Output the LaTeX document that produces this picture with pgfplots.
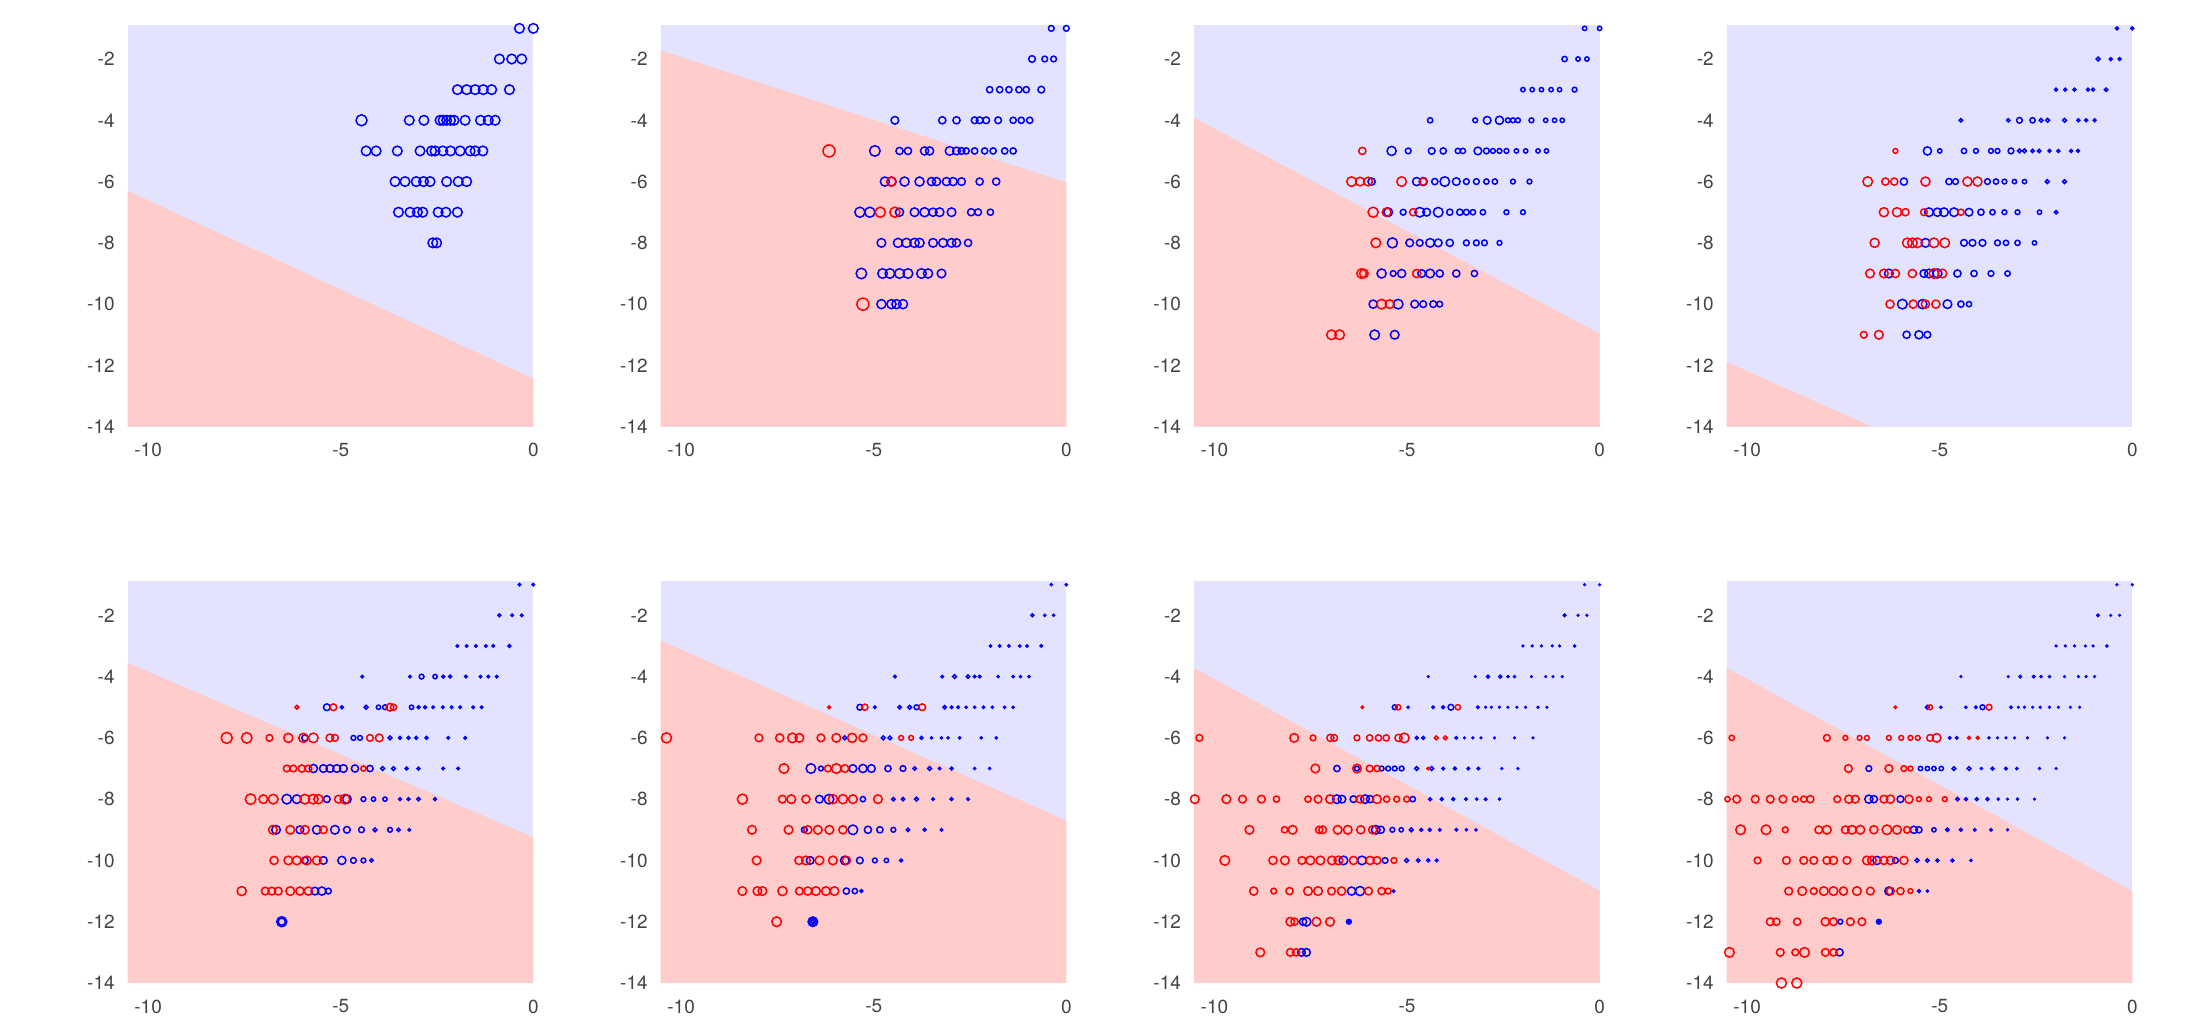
\documentclass[border=0pt]{standalone}
\usepackage{fontspec}
\setmainfont{TeX Gyre Heros}
\usepackage{pgfplots}
\usepackage{pgfplotstable}
\pgfplotsset{compat=1.18}
\definecolor{lav}{HTML}{E3E3FF}
\definecolor{pinkc}{HTML}{FFCCCC}
\definecolor{tickgray}{HTML}{444444}
\pgfplotsset{
  myax/.style={scale only axis, width=202.8pt, height=201pt, anchor=south west,
    xmin=-10.53, xmax=0, ymin=-14, ymax=-0.88,
    axis line style={draw=none}, tick style={draw=none},
    xtick={-10,-5,0}, xticklabels={-10,-5,0},
    ytick={-14,-12,-10,-8,-6,-4,-2}, yticklabels={-14,-12,-10,-8,-6,-4,-2},
    ticklabel style={font=\fontsize{9.5}{11}\selectfont, text=tickgray},
    xticklabel style={yshift=-4.8pt}, yticklabel style={xshift=-3pt},
    clip=false, axis background/.style={fill=lav}},
}
\newcommand{\pts}[2]{\addplot[scatter, only marks, mark=o, line width=0.75pt,
   point meta=explicit,
   scatter/use mapped color={draw=#1},
   visualization depends on={1.2*\thisrow{s}\as\ms},
   scatter/@pre marker code/.append style={/tikz/mark size=\ms, /tikz/line width=0.75pt}] table[x=x,y=y,meta=s] {#2};}

% ---------- panel 1 ----------
\pgfplotstableread[row sep=\\]{x y s\\
-0.36 -1 2\\ 0 -1 2\\ -0.88 -2 2\\ -0.56 -2 2\\ -0.30 -2 2\\
-1.97 -3 2\\ -1.73 -3 2\\ -1.51 -3 2\\ -1.30 -3 2\\ -1.08 -3 2\\ -0.62 -3 2\\
-4.46 -4 2.3\\ -3.22 -4 2\\ -2.84 -4 2\\ -2.42 -4 2\\ -2.34 -4 2\\ -2.25 -4 2\\ -2.15 -4 2\\ -2.06 -4 2\\ -1.77 -4 2\\ -1.37 -4 2\\ -1.17 -4 2\\ -0.99 -4 2\\
-4.34 -5 2\\ -4.08 -5 2\\ -3.53 -5 2\\ -2.94 -5 2\\ -2.64 -5 2\\ -2.55 -5 2\\ -2.35 -5 2\\ -2.15 -5 2\\ -1.90 -5 2\\ -1.64 -5 2\\ -1.51 -5 2\\ -1.31 -5 2\\
-3.59 -6 2\\ -3.33 -6 2\\ -3.04 -6 2\\ -2.85 -6 2\\ -2.68 -6 2\\ -2.25 -6 2\\ -1.95 -6 2\\ -1.73 -6 2\\
-3.50 -7 2\\ -3.20 -7 2\\ -3.01 -7 2\\ -2.87 -7 2\\ -2.47 -7 2\\ -2.27 -7 2\\ -1.97 -7 2\\
-2.61 -8 2\\ -2.51 -8 2\\
}\bA

% ---------- panel 2 ----------
\pgfplotstableread[row sep=\\]{x y s\\
-0.39 -1 1.2\\ 0 -1 1.2\\ -0.89 -2 1.4\\ -0.56 -2 1.2\\ -0.33 -2 1.2\\
-1.99 -3 1.3\\ -1.73 -3 1.3\\ -1.49 -3 1.3\\ -1.23 -3 1.3\\ -1.04 -3 1.3\\ -0.65 -3 1.4\\
-4.45 -4 1.6\\ -3.22 -4 1.5\\ -2.85 -4 1.5\\ -2.38 -4 1.4\\ -2.25 -4 1.4\\ -2.08 -4 1.4\\ -1.77 -4 1.4\\ -1.38 -4 1.3\\ -1.17 -4 1.3\\ -0.95 -4 1.3\\
-4.97 -5 2.2\\ -4.33 -5 1.5\\ -4.11 -5 1.5\\ -3.68 -5 1.7\\ -3.55 -5 1.7\\ -3.03 -5 1.8\\ -2.85 -5 1.6\\ -2.72 -5 1.4\\ -2.60 -5 1.3\\ -2.38 -5 1.3\\ -2.12 -5 1.3\\ -1.90 -5 1.3\\ -1.60 -5 1.3\\ -1.38 -5 1.3\\
-4.71 -6 1.9\\ -4.54 -6 1.9\\ -4.20 -6 1.9\\ -3.81 -6 1.9\\ -3.50 -6 1.7\\ -3.37 -6 1.7\\ -3.11 -6 1.7\\ -2.94 -6 1.7\\ -2.72 -6 1.6\\ -2.25 -6 1.5\\ -1.82 -6 1.5\\
-5.36 -7 2.1\\ -5.10 -7 2.1\\ -4.33 -7 1.7\\ -3.94 -7 1.8\\ -3.68 -7 1.9\\ -3.46 -7 1.7\\ -3.29 -7 1.8\\ -2.98 -7 1.8\\ -2.47 -7 1.5\\ -2.29 -7 1.4\\ -1.97 -7 1.3\\
-4.80 -8 1.8\\ -4.37 -8 1.9\\ -4.15 -8 1.9\\ -3.94 -8 1.9\\ -3.81 -8 1.9\\ -3.46 -8 1.8\\ -3.20 -8 1.8\\ -2.98 -8 1.8\\ -2.85 -8 1.7\\ -2.55 -8 1.5\\
-5.32 -9 2.2\\ -4.77 -9 2.0\\ -4.58 -9 2.0\\ -4.33 -9 2.0\\ -4.11 -9 2.0\\ -3.76 -9 2.0\\ -3.59 -9 1.9\\ -3.24 -9 1.8\\
-4.80 -10 1.9\\ -4.54 -10 1.9\\ -4.41 -10 1.9\\ -4.24 -10 1.9\\
}\bB
\pgfplotstableread[row sep=\\]{x y s\\
-6.16 -5 2.5\\ -4.54 -6 1.9\\ -4.83 -7 2.1\\ -4.45 -7 2.1\\ -5.28 -10 2.5\\
}\rB

% ---------- panel 3 ----------
\pgfplotstableread[row sep=\\]{x y s\\
-0.39 -1 0.9\\ 0 -1 0.9\\ -0.91 -2 1.1\\ -0.56 -2 0.9\\ -0.33 -2 0.9\\
-1.99 -3 0.9\\ -1.75 -3 0.9\\ -1.51 -3 0.9\\ -1.26 -3 0.9\\ -1.04 -3 0.9\\ -0.65 -3 1.0\\
-4.40 -4 1.1\\ -3.23 -4 1.0\\ -2.92 -4 1.6\\ -2.60 -4 1.7\\ -2.38 -4 1.0\\ -2.25 -4 1.0\\ -2.12 -4 1.0\\ -1.77 -4 1.0\\ -1.40 -4 0.9\\ -1.17 -4 0.9\\ -0.97 -4 0.9\\
-5.40 -5 1.9\\ -4.97 -5 1.2\\ -4.36 -5 1.4\\ -4.06 -5 1.3\\ -3.68 -5 1.1\\ -3.55 -5 1.1\\ -3.16 -5 1.6\\ -2.94 -5 1.2\\ -2.77 -5 1.0\\ -2.60 -5 1.0\\ -2.42 -5 1.0\\ -2.16 -5 0.9\\ -1.92 -5 0.9\\ -1.60 -5 0.9\\ -1.38 -5 0.9\\
-5.92 -6 1.5\\ -4.75 -6 1.7\\ -4.58 -6 1.7\\ -4.28 -6 1.3\\ -4.02 -6 2.0\\ -3.72 -6 1.6\\ -3.46 -6 1.2\\ -3.20 -6 1.2\\ -2.94 -6 1.1\\ -2.72 -6 1.1\\ -2.25 -6 1.0\\ -1.82 -6 1.0\\
-5.49 -7 1.8\\ -5.10 -7 1.2\\ -4.67 -7 2.0\\ -4.49 -7 1.6\\ -4.19 -7 2.0\\ -3.89 -7 1.3\\ -3.63 -7 1.3\\ -3.46 -7 1.2\\ -3.29 -7 1.1\\ -3.03 -7 1.1\\ -2.42 -7 1.0\\ -1.99 -7 1.0\\
-5.38 -8 2.1\\ -4.93 -8 1.6\\ -4.67 -8 1.4\\ -4.40 -8 1.8\\ -4.19 -8 1.6\\ -3.89 -8 1.5\\ -3.46 -8 1.2\\ -3.20 -8 1.2\\ -2.99 -8 1.2\\ -2.60 -8 1.0\\
-5.66 -9 1.9\\ -5.36 -9 1.2\\ -5.14 -9 1.7\\ -4.62 -9 1.6\\ -4.40 -9 1.8\\ -4.15 -9 1.5\\ -3.72 -9 1.5\\ -3.25 -9 1.3\\
-5.88 -10 1.7\\ -5.23 -10 2.0\\ -4.80 -10 1.6\\ -4.58 -10 1.4\\ -4.32 -10 1.4\\ -4.15 -10 1.2\\
-5.84 -11 2.0\\ -5.32 -11 1.8\\
}\bC
\pgfplotstableread[row sep=\\]{x y s\\
-6.16 -5 1.5\\
-6.44 -6 2.0\\ -6.22 -6 1.8\\ -6.01 -6 1.8\\ -5.14 -6 2.0\\ -4.58 -6 1.5\\
-5.88 -7 2.1\\ -5.53 -7 1.8\\ -4.84 -7 1.5\\
-5.81 -8 2.0\\
-6.18 -9 2.0\\ -6.12 -9 1.8\\ -4.75 -9 1.7\\
-5.66 -10 2.0\\ -5.45 -10 1.8\\
-6.96 -11 2.0\\ -6.75 -11 2.0\\
}\rC

% ---------- panel 4 ----------
\pgfplotstableread[row sep=\\]{x y s\\
-0.40 -1 0.6\\ 0 -1 0.6\\ -0.89 -2 0.8\\ -0.56 -2 0.6\\ -0.33 -2 0.6\\
-1.98 -3 0.6\\ -1.74 -3 0.6\\ -1.50 -3 0.6\\ -1.15 -3 0.6\\ -1.02 -3 0.6\\ -0.68 -3 0.7\\
-4.45 -4 0.7\\ -3.22 -4 0.7\\ -2.93 -4 1.2\\ -2.59 -4 1.1\\ -2.37 -4 0.8\\ -2.20 -4 0.8\\ -1.76 -4 0.8\\ -1.40 -4 0.6\\ -1.20 -4 0.6\\ -0.98 -4 0.6\\
-5.32 -5 1.7\\ -5.00 -5 0.9\\ -4.37 -5 1.1\\ -4.06 -5 1.0\\ -3.67 -5 1.0\\ -3.50 -5 1.0\\ -3.15 -5 1.2\\ -2.93 -5 0.8\\ -2.80 -5 0.8\\ -2.59 -5 0.7\\ -2.42 -5 0.7\\ -2.15 -5 0.6\\ -1.92 -5 0.6\\ -1.59 -5 0.6\\ -1.41 -5 0.6\\
-5.93 -6 1.5\\ -4.76 -6 1.3\\ -4.59 -6 1.2\\ -3.76 -6 1.2\\ -3.54 -6 1.1\\ -3.32 -6 1.0\\ -3.06 -6 0.9\\ -2.80 -6 0.9\\ -2.21 -6 0.8\\ -1.76 -6 0.8\\
-5.28 -7 1.8\\ -5.06 -7 1.7\\ -4.89 -7 1.8\\ -4.63 -7 1.8\\ -4.24 -7 1.6\\ -3.93 -7 1.3\\ -3.63 -7 1.1\\ -3.32 -7 1.0\\ -2.98 -7 1.0\\ -2.41 -7 0.9\\ -1.98 -7 0.7\\
-5.37 -8 1.8\\ -4.37 -8 1.4\\ -4.15 -8 1.4\\ -3.89 -8 1.4\\ -3.50 -8 1.2\\ -3.28 -8 1.1\\ -2.98 -8 1.1\\ -2.54 -8 0.9\\
-6.32 -9 1.8\\ -5.41 -9 1.6\\ -5.28 -9 1.8\\ -5.06 -9 1.9\\ -4.54 -9 1.5\\ -4.11 -9 1.3\\ -3.67 -9 1.2\\ -3.24 -9 1.1\\
-5.97 -10 2.0\\ -5.45 -10 1.9\\ -4.80 -10 1.8\\ -4.45 -10 1.3\\ -4.24 -10 1.1\\
-5.86 -11 1.5\\ -5.54 -11 1.7\\ -5.32 -11 1.4\\
}\bD
\pgfplotstableread[row sep=\\]{x y s\\
-6.15 -5 1.0\\
-6.87 -6 2.0\\ -6.41 -6 1.5\\ -6.18 -6 1.5\\ -5.37 -6 1.9\\ -4.28 -6 1.9\\ -4.02 -6 1.9\\
-6.45 -7 1.9\\ -6.11 -7 1.9\\ -5.89 -7 1.5\\ -5.41 -7 1.4\\ -4.45 -7 1.3\\
-6.69 -8 1.9\\ -5.84 -8 2.0\\ -5.71 -8 2.0\\ -5.58 -8 2.0\\ -5.15 -8 2.0\\ -4.87 -8 2.0\\
-6.81 -9 1.8\\ -6.45 -9 1.8\\ -6.15 -9 1.7\\ -5.71 -9 1.7\\ -5.15 -9 2.0\\ -4.93 -9 1.8\\
-6.29 -10 1.7\\ -5.69 -10 1.7\\ -5.37 -10 1.7\\ -5.10 -10 1.7\\
-6.97 -11 1.4\\ -6.58 -11 1.8\\
}\rD

% ---------- panel 5 ----------
\pgfplotstableread[row sep=\\]{x y s\\
-0.36 -1 0.5\\ 0 -1 0.5\\ -0.88 -2 0.6\\ -0.55 -2 0.5\\ -0.30 -2 0.5\\
-1.97 -3 0.5\\ -1.73 -3 0.5\\ -1.49 -3 0.5\\ -1.23 -3 0.5\\ -1.04 -3 0.5\\ -0.62 -3 0.6\\
-4.44 -4 0.5\\ -3.20 -4 0.5\\ -2.90 -4 1.0\\ -2.55 -4 0.9\\ -2.34 -4 0.6\\ -2.16 -4 0.6\\ -1.75 -4 0.5\\ -1.37 -4 0.5\\ -1.17 -4 0.5\\ -0.95 -4 0.5\\
-5.36 -5 1.4\\ -4.97 -5 0.6\\ -4.34 -5 0.8\\ -4.02 -5 0.9\\ -3.85 -5 1.0\\ -3.16 -5 0.9\\ -2.98 -5 0.6\\ -2.81 -5 0.6\\ -2.60 -5 0.5\\ -2.35 -5 0.5\\ -2.12 -5 0.5\\ -1.90 -5 0.5\\ -1.56 -5 0.5\\ -1.34 -5 0.5\\
-5.93 -6 1.3\\ -4.67 -6 1.0\\ -4.50 -6 1.0\\ -3.72 -6 0.8\\ -3.46 -6 0.6\\ -3.24 -6 0.6\\ -3.04 -6 0.6\\ -2.77 -6 0.6\\ -2.21 -6 0.5\\ -1.77 -6 0.5\\
-5.71 -7 1.7\\ -5.45 -7 1.6\\ -5.28 -7 1.6\\ -5.10 -7 1.6\\ -4.93 -7 1.6\\ -4.63 -7 1.5\\ -4.24 -7 1.3\\ -3.91 -7 0.8\\ -3.63 -7 0.8\\ -3.29 -7 0.6\\ -2.98 -7 0.6\\ -2.34 -7 0.5\\ -1.95 -7 0.5\\
-6.40 -8 2.0\\ -6.14 -8 1.8\\ -5.36 -8 1.4\\ -4.84 -8 1.8\\ -4.41 -8 1.0\\ -4.15 -8 0.9\\ -3.85 -8 0.9\\ -3.46 -8 0.6\\ -3.24 -8 0.6\\ -2.98 -8 0.7\\ -2.55 -8 0.6\\
-6.68 -9 1.8\\ -6.06 -9 1.6\\ -5.62 -9 1.8\\ -5.15 -9 1.8\\ -4.84 -9 1.4\\ -4.46 -9 1.2\\ -4.11 -9 0.8\\ -3.72 -9 1.0\\ -3.50 -9 0.7\\ -3.22 -9 0.5\\
-5.93 -10 1.4\\ -5.45 -10 1.6\\ -4.97 -10 1.7\\ -4.67 -10 1.2\\ -4.41 -10 1.0\\ -4.20 -10 0.7\\
-5.67 -11 1.6\\ -5.49 -11 1.7\\ -5.32 -11 1.2\\
-6.53 -12 2.1\\ -6.53 -12 1.5\\
}\bE
\pgfplotstableread[row sep=\\]{x y s\\
-6.14 -5 0.8\\ -5.19 -5 1.4\\ -3.72 -5 1.6\\ -3.63 -5 1.3\\
-7.96 -6 2.3\\ -7.44 -6 2.2\\ -6.85 -6 1.4\\ -6.36 -6 1.9\\ -5.97 -6 1.9\\ -5.71 -6 2.0\\ -5.28 -6 1.6\\ -5.15 -6 1.4\\ -4.24 -6 1.4\\ -4.00 -6 1.6\\
-6.40 -7 1.4\\ -6.23 -7 1.4\\ -6.01 -7 1.5\\ -5.84 -7 1.4\\ -4.41 -7 1.1\\
-7.34 -8 2.2\\ -7.01 -8 1.8\\ -6.75 -8 2.0\\ -5.93 -8 2.0\\ -5.71 -8 2.0\\ -5.58 -8 1.9\\ -5.06 -8 1.6\\ -4.89 -8 2.0\\
-6.76 -9 1.8\\ -6.31 -9 1.8\\ -5.93 -9 1.8\\ -5.45 -9 1.6\\
-6.73 -10 1.7\\ -6.36 -10 1.8\\ -6.14 -10 1.8\\ -5.88 -10 1.8\\ -5.62 -10 1.8\\
-7.57 -11 1.9\\ -6.96 -11 1.6\\ -6.79 -11 1.6\\ -6.62 -11 1.6\\ -6.31 -11 1.8\\ -6.06 -11 1.7\\ -5.84 -11 1.7\\
}\rE

% ---------- panel 6 ----------
\pgfplotstableread[row sep=\\]{x y s\\
-0.39 -1 0.4\\ 0 -1 0.4\\ -0.88 -2 0.6\\ -0.56 -2 0.4\\ -0.33 -2 0.4\\
-1.97 -3 0.45\\ -1.73 -3 0.45\\ -1.49 -3 0.45\\ -1.21 -3 0.45\\ -1.02 -3 0.45\\ -0.65 -3 0.5\\
-4.45 -4 0.5\\ -3.22 -4 0.5\\ -2.90 -4 0.8\\ -2.55 -4 0.7\\ -2.38 -4 0.5\\ -2.25 -4 0.5\\ -1.77 -4 0.4\\ -1.38 -4 0.4\\ -1.19 -4 0.4\\ -0.97 -4 0.4\\
-5.36 -5 1.2\\ -4.97 -5 0.5\\ -4.33 -5 0.7\\ -4.07 -5 0.8\\ -3.89 -5 1.0\\ -3.16 -5 0.7\\ -2.98 -5 0.5\\ -2.81 -5 0.5\\ -2.60 -5 0.4\\ -2.38 -5 0.4\\ -2.15 -5 0.4\\ -1.92 -5 0.4\\ -1.60 -5 0.4\\ -1.38 -5 0.4\\
-5.75 -6 0.8\\ -4.75 -6 0.8\\ -4.58 -6 0.8\\ -3.76 -6 0.6\\ -3.50 -6 0.4\\ -3.24 -6 0.4\\ -3.07 -6 0.4\\ -2.77 -6 0.4\\ -2.21 -6 0.4\\ -1.82 -6 0.4\\
-6.63 -7 2.0\\ -6.37 -7 1.0\\ -5.54 -7 1.6\\ -5.28 -7 1.7\\ -5.06 -7 1.6\\ -4.63 -7 1.3\\ -4.24 -7 1.2\\ -3.94 -7 0.7\\ -3.55 -7 0.8\\ -3.29 -7 0.5\\ -2.98 -7 0.6\\ -2.38 -7 0.4\\ -1.99 -7 0.4\\
-6.41 -8 1.6\\ -6.16 -8 2.0\\ -5.28 -8 1.1\\ -4.49 -8 0.7\\ -4.24 -8 0.7\\ -3.89 -8 0.8\\ -3.46 -8 0.5\\ -2.98 -8 0.6\\ -2.55 -8 0.5\\
-6.80 -9 1.2\\ -5.54 -9 2.0\\ -5.15 -9 1.5\\ -4.84 -9 1.3\\ -4.49 -9 1.0\\ -4.11 -9 0.7\\ -3.68 -9 0.6\\ -3.24 -9 0.5\\
-6.65 -10 1.6\\ -5.75 -10 1.8\\ -5.36 -10 1.4\\ -4.97 -10 1.0\\ -4.67 -10 0.9\\ -4.29 -10 0.6\\
-5.71 -11 1.3\\ -5.49 -11 1.1\\ -5.32 -11 0.6\\
-6.58 -12 2.0\\ -6.58 -12 1.4\\ -6.58 -12 0.8\\
}\bF
\pgfplotstableread[row sep=\\]{x y s\\
-6.16 -5 0.6\\ -5.23 -5 1.3\\ -3.74 -5 1.4\\
-10.38 -6 2.1\\ -7.98 -6 1.6\\ -7.44 -6 1.7\\ -7.11 -6 2.0\\ -6.93 -6 1.8\\ -6.37 -6 1.6\\ -5.97 -6 1.8\\ -5.56 -6 1.9\\ -5.28 -6 1.6\\ -4.29 -6 1.0\\ -4.03 -6 1.0\\
-7.33 -7 2.0\\ -6.19 -7 1.4\\ -5.97 -7 2.0\\ -5.75 -7 1.6\\
-8.41 -8 2.1\\ -7.37 -8 1.6\\ -7.14 -8 1.8\\ -6.76 -8 1.7\\ -6.06 -8 1.9\\ -5.80 -8 1.9\\ -5.54 -8 1.8\\ -4.89 -8 1.8\\
-8.16 -9 1.8\\ -7.21 -9 1.8\\ -6.71 -9 1.7\\ -6.45 -9 1.8\\ -6.15 -9 1.8\\ -5.80 -9 1.7\\
-8.04 -10 1.8\\ -6.94 -10 1.7\\ -6.76 -10 1.8\\ -6.41 -10 1.8\\ -6.06 -10 1.8\\ -5.71 -10 1.7\\
-8.41 -11 1.8\\ -8.02 -11 1.8\\ -7.89 -11 1.8\\ -7.37 -11 1.9\\ -6.93 -11 1.6\\ -6.71 -11 1.7\\ -6.50 -11 1.8\\ -6.24 -11 1.8\\ -6.02 -11 1.8\\
-7.52 -12 2.0\\
}\rF

% ---------- panel 7 ----------
\pgfplotstableread[row sep=\\]{x y s\\
-0.39 -1 0.3\\ 0 -1 0.3\\ -0.91 -2 0.5\\ -0.56 -2 0.3\\ -0.33 -2 0.3\\
-1.99 -3 0.3\\ -1.75 -3 0.3\\ -1.51 -3 0.3\\ -1.23 -3 0.3\\ -1.04 -3 0.3\\ -0.65 -3 0.4\\
-4.45 -4 0.3\\ -3.23 -4 0.3\\ -2.90 -4 0.6\\ -2.58 -4 0.6\\ -2.38 -4 0.4\\ -2.21 -4 0.4\\ -1.77 -4 0.3\\ -1.40 -4 0.3\\ -1.21 -4 0.3\\ -0.97 -4 0.3\\
-5.32 -5 1.0\\ -4.97 -5 0.4\\ -4.32 -5 0.5\\ -4.06 -5 0.6\\ -3.86 -5 1.2\\ -3.16 -5 0.5\\ -2.96 -5 0.3\\ -2.81 -5 0.3\\ -2.60 -5 0.3\\ -2.38 -5 0.3\\ -2.15 -5 0.3\\ -1.92 -5 0.3\\ -1.60 -5 0.3\\ -1.37 -5 0.3\\
-4.75 -6 0.6\\ -4.58 -6 0.6\\ -3.72 -6 0.5\\ -3.51 -6 0.3\\ -3.29 -6 0.3\\ -3.08 -6 0.3\\ -2.73 -6 0.3\\ -2.21 -6 0.3\\ -1.73 -6 0.3\\
-6.82 -7 1.3\\ -6.30 -7 1.0\\ -5.66 -7 1.0\\ -5.49 -7 1.0\\ -5.32 -7 1.0\\ -5.14 -7 1.0\\ -4.75 -7 0.8\\ -4.36 -7 0.8\\ -4.06 -7 0.5\\ -3.76 -7 0.6\\ -3.41 -7 0.5\\ -3.15 -7 0.5\\ -2.54 -7 0.3\\ -2.12 -7 0.3\\
-6.82 -8 1.8\\ -6.69 -8 1.6\\ -6.39 -8 1.4\\ -6.09 -8 1.8\\ -5.96 -8 1.5\\ -4.85 -8 1.1\\ -4.40 -8 0.6\\ -4.10 -8 0.6\\ -3.80 -8 0.6\\ -3.47 -8 0.5\\ -3.19 -8 0.4\\ -2.96 -8 0.5\\ -2.60 -8 0.4\\
-5.81 -9 1.8\\ -5.68 -9 1.5\\ -5.38 -9 1.0\\ -5.15 -9 0.9\\ -4.89 -9 0.8\\ -4.63 -9 0.6\\ -4.41 -9 0.6\\ -4.15 -9 0.5\\ -3.72 -9 0.5\\ -3.46 -9 0.4\\ -3.21 -9 0.4\\
-6.65 -10 1.8\\ -6.17 -10 1.8\\ -5.57 -10 1.2\\ -5.01 -10 0.8\\ -4.71 -10 0.7\\ -4.45 -10 0.6\\ -4.23 -10 0.5\\
-6.44 -11 1.7\\ -6.22 -11 1.9\\ -5.35 -11 0.5\\
-7.70 -12 1.5\\ -7.61 -12 1.8\\ -6.51 -12 1.0\\ -6.51 -12 0.6\\
-7.74 -13 1.6\\ -7.61 -13 1.6\\
}\bG
\pgfplotstableread[row sep=\\]{x y s\\
-6.16 -5 0.5\\ -5.23 -5 1.1\\ -3.68 -5 1.1\\
-10.39 -6 1.4\\ -7.93 -6 1.8\\ -7.44 -6 1.2\\ -6.99 -6 1.5\\ -6.89 -6 1.4\\ -6.30 -6 1.2\\ -5.97 -6 1.3\\ -5.74 -6 1.3\\ -5.54 -6 1.3\\ -5.22 -6 1.5\\ -5.07 -6 2.0\\ -4.24 -6 0.8\\ -4.01 -6 0.8\\
-7.38 -7 1.8\\ -6.30 -7 1.8\\ -5.97 -7 1.4\\ -5.78 -7 1.3\\ -4.45 -7 0.5\\
-10.51 -8 1.8\\ -9.69 -8 1.8\\ -9.27 -8 1.6\\ -8.78 -8 1.6\\ -8.39 -8 1.3\\ -7.57 -8 1.3\\ -7.31 -8 1.6\\ -7.00 -8 1.8\\ -6.22 -8 1.6\\ -5.78 -8 1.8\\ -5.53 -8 1.3\\ -5.27 -8 1.2\\ -5.01 -8 1.2\\
-9.09 -9 1.8\\ -8.18 -9 1.3\\ -7.97 -9 1.8\\ -7.28 -9 1.5\\ -7.19 -9 1.6\\ -6.80 -9 1.8\\ -6.54 -9 1.8\\ -6.20 -9 1.7\\ -5.89 -9 1.7\\
-9.73 -10 2.0\\ -8.48 -10 1.7\\ -8.17 -10 1.8\\ -7.73 -10 1.6\\ -7.51 -10 1.8\\ -7.25 -10 1.8\\ -6.95 -10 1.8\\ -6.78 -10 1.8\\ -6.39 -10 1.7\\ -5.96 -10 1.7\\ -5.78 -10 1.6\\ -5.34 -10 1.2\\
-8.98 -11 1.7\\ -8.46 -11 1.2\\ -8.05 -11 1.5\\ -7.57 -11 1.8\\ -7.31 -11 1.8\\ -6.96 -11 1.6\\ -6.70 -11 1.7\\ -6.00 -11 1.6\\ -5.66 -11 1.5\\ -5.49 -11 1.2\\
-8.03 -12 1.8\\ -7.92 -12 1.5\\ -7.35 -12 1.8\\ -7.00 -12 1.8\\
-8.81 -13 1.8\\ -8.03 -13 1.6\\ -7.88 -13 1.5\\
}\rG

% ---------- panel 8 ----------
\pgfplotstableread[row sep=\\]{x y s\\
-0.40 -1 0.3\\ 0 -1 0.3\\ -0.89 -2 0.5\\ -0.56 -2 0.3\\ -0.33 -2 0.3\\
-1.98 -3 0.3\\ -1.74 -3 0.3\\ -1.50 -3 0.3\\ -1.22 -3 0.3\\ -1.02 -3 0.3\\ -0.66 -3 0.4\\
-4.45 -4 0.3\\ -3.22 -4 0.3\\ -2.91 -4 0.5\\ -2.56 -4 0.5\\ -2.37 -4 0.4\\ -2.15 -4 0.4\\ -1.76 -4 0.3\\ -1.40 -4 0.3\\ -1.20 -4 0.3\\ -0.98 -4 0.3\\
-5.32 -5 0.8\\ -4.97 -5 0.4\\ -4.32 -5 0.4\\ -4.06 -5 0.5\\ -3.89 -5 1.0\\ -3.15 -5 0.4\\ -2.96 -5 0.3\\ -2.80 -5 0.3\\ -2.59 -5 0.3\\ -2.39 -5 0.3\\ -2.15 -5 0.3\\ -1.92 -5 0.3\\ -1.61 -5 0.3\\ -1.37 -5 0.3\\
-4.74 -6 0.5\\ -4.56 -6 0.5\\ -3.72 -6 0.4\\ -3.50 -6 0.3\\ -3.28 -6 0.3\\ -3.06 -6 0.3\\ -2.72 -6 0.3\\ -2.20 -6 0.3\\ -1.76 -6 0.3\\
-6.84 -7 1.2\\ -5.50 -7 0.9\\ -5.32 -7 0.9\\ -5.15 -7 0.9\\ -4.96 -7 0.9\\ -4.63 -7 0.8\\ -4.24 -7 0.8\\ -3.92 -7 0.4\\ -3.63 -7 0.6\\ -3.28 -7 0.5\\ -3.00 -7 0.4\\ -2.41 -7 0.3\\ -1.98 -7 0.3\\
-6.84 -8 1.7\\ -6.71 -8 1.5\\ -6.02 -8 1.4\\ -4.54 -8 0.7\\ -4.32 -8 0.6\\ -4.04 -8 0.6\\ -3.76 -8 0.6\\ -3.48 -8 0.4\\ -3.24 -8 0.3\\ -2.98 -8 0.4\\ -2.54 -8 0.3\\
-5.67 -9 1.5\\ -5.54 -9 1.3\\ -5.15 -9 0.9\\ -4.80 -9 0.7\\ -4.45 -9 0.6\\ -4.09 -9 0.5\\ -3.67 -9 0.5\\ -3.24 -9 0.3\\
-6.63 -10 1.7\\ -6.15 -10 1.2\\ -5.59 -10 0.8\\ -5.32 -10 0.7\\ -5.06 -10 0.6\\ -4.67 -10 0.6\\ -4.19 -10 0.4\\
-6.32 -11 1.7\\ -5.54 -11 0.6\\ -5.32 -11 0.4\\
-7.58 -12 1.0\\ -6.58 -12 1.0\\ -6.58 -12 0.5\\
-7.60 -13 1.5\\
}\bH
\pgfplotstableread[row sep=\\]{x y s\\
-6.15 -5 0.5\\ -5.25 -5 1.0\\ -3.72 -5 1.2\\
-10.40 -6 1.1\\ -7.93 -6 1.4\\ -7.45 -6 1.0\\ -7.08 -6 1.0\\ -6.89 -6 1.0\\ -6.32 -6 1.0\\ -6.00 -6 1.0\\ -5.76 -6 1.0\\ -5.57 -6 1.0\\ -5.25 -6 1.4\\ -5.08 -6 1.8\\ -4.24 -6 0.6\\ -4.01 -6 0.6\\
-7.37 -7 1.6\\ -6.32 -7 1.6\\ -5.93 -7 1.2\\ -5.76 -7 1.0\\
-10.51 -8 1.1\\ -10.27 -8 1.6\\ -9.79 -8 1.6\\ -9.40 -8 1.6\\ -9.07 -8 1.6\\ -8.75 -8 1.2\\ -8.53 -8 1.3\\ -8.36 -8 1.5\\ -7.66 -8 1.4\\ -7.36 -8 1.7\\ -7.19 -8 1.6\\ -6.45 -8 1.6\\ -6.28 -8 1.7\\ -5.80 -8 1.7\\ -5.54 -8 1.0\\ -5.28 -8 1.0\\ -4.87 -8 1.0\\
-10.17 -9 2.0\\ -9.51 -9 2.0\\ -9.01 -9 1.2\\ -8.14 -9 1.6\\ -7.93 -9 1.8\\ -7.45 -9 1.6\\ -7.28 -9 1.8\\ -7.06 -9 1.8\\ -6.71 -9 1.7\\ -6.37 -9 2.0\\ -6.11 -9 1.8\\ -5.85 -9 1.4\\
-9.73 -10 1.4\\ -8.98 -10 1.6\\ -8.53 -10 1.6\\ -8.27 -10 1.6\\ -7.93 -10 1.6\\ -7.76 -10 1.7\\ -7.41 -10 1.6\\ -6.89 -10 1.8\\ -6.76 -10 1.8\\ -6.45 -10 1.7\\ -6.28 -10 1.7\\ -5.93 -10 1.7\\
-8.92 -11 1.6\\ -8.57 -11 1.8\\ -8.27 -11 1.4\\ -8.01 -11 1.8\\ -7.76 -11 1.8\\ -7.50 -11 1.7\\ -7.15 -11 1.8\\ -6.80 -11 1.6\\ -6.28 -11 1.6\\ -6.02 -11 1.5\\ -5.76 -11 1.0\\
-9.40 -12 1.6\\ -9.24 -12 1.5\\ -8.70 -12 1.5\\ -7.97 -12 1.7\\ -7.76 -12 1.6\\ -7.32 -12 1.6\\ -7.02 -12 1.6\\
-10.46 -13 2.0\\ -9.14 -13 1.6\\ -8.75 -13 1.4\\ -8.51 -13 2.0\\ -7.97 -13 1.6\\ -7.76 -13 1.5\\
-9.11 -14 2.1\\ -8.71 -14 2.1\\
}\rH

\begin{document}
\begin{tikzpicture}
\useasboundingbox (0,0) rectangle (1097.5pt,-513.5pt);
% row 1
\begin{axis}[myax, at={(63.85pt,-213.35pt)}]
\addplot[fill=pinkc, draw=none] coordinates {(-10.53,-6.30) (0,-12.43) (0,-14) (-10.53,-14)} -- cycle;
\pts{blue}{\bA}
\end{axis}
\begin{axis}[myax, at={(330.35pt,-213.35pt)}]
\addplot[fill=pinkc, draw=none] coordinates {(-10.53,-1.72) (0,-6.03) (0,-14) (-10.53,-14)} -- cycle;
\pts{blue}{\bB}
\pts{red}{\rB}
\end{axis}
\begin{axis}[myax, at={(597pt,-213.35pt)}]
\addplot[fill=pinkc, draw=none] coordinates {(-10.53,-3.92) (0,-10.96) (0,-14) (-10.53,-14)} -- cycle;
\pts{blue}{\bC}
\pts{red}{\rC}
\end{axis}
\begin{axis}[myax, at={(863.35pt,-213.35pt)}]
\addplot[fill=pinkc, draw=none] coordinates {(-10.53,-11.89) (-6.75,-14) (-10.53,-14)} -- cycle;
\pts{blue}{\bD}
\pts{red}{\rD}
\end{axis}
% row 2
\begin{axis}[myax, at={(63.85pt,-491.5pt)}]
\addplot[fill=pinkc, draw=none] coordinates {(-10.53,-3.55) (0,-9.24) (0,-14) (-10.53,-14)} -- cycle;
\pts{blue}{\bE}
\pts{red}{\rE}
\end{axis}
\begin{axis}[myax, at={(330.35pt,-491.5pt)}]
\addplot[fill=pinkc, draw=none] coordinates {(-10.53,-2.82) (0,-8.70) (0,-14) (-10.53,-14)} -- cycle;
\pts{blue}{\bF}
\pts{red}{\rF}
\end{axis}
\begin{axis}[myax, at={(597pt,-491.5pt)}]
\addplot[fill=pinkc, draw=none] coordinates {(-10.53,-3.71) (0,-10.99) (0,-14) (-10.53,-14)} -- cycle;
\pts{blue}{\bG}
\pts{red}{\rG}
\end{axis}
\begin{axis}[myax, at={(863.35pt,-491.5pt)}]
\addplot[fill=pinkc, draw=none] coordinates {(-10.53,-3.71) (0,-10.99) (0,-14) (-10.53,-14)} -- cycle;
\pts{blue}{\bH}
\pts{red}{\rH}
\end{axis}
\end{tikzpicture}
\end{document}
